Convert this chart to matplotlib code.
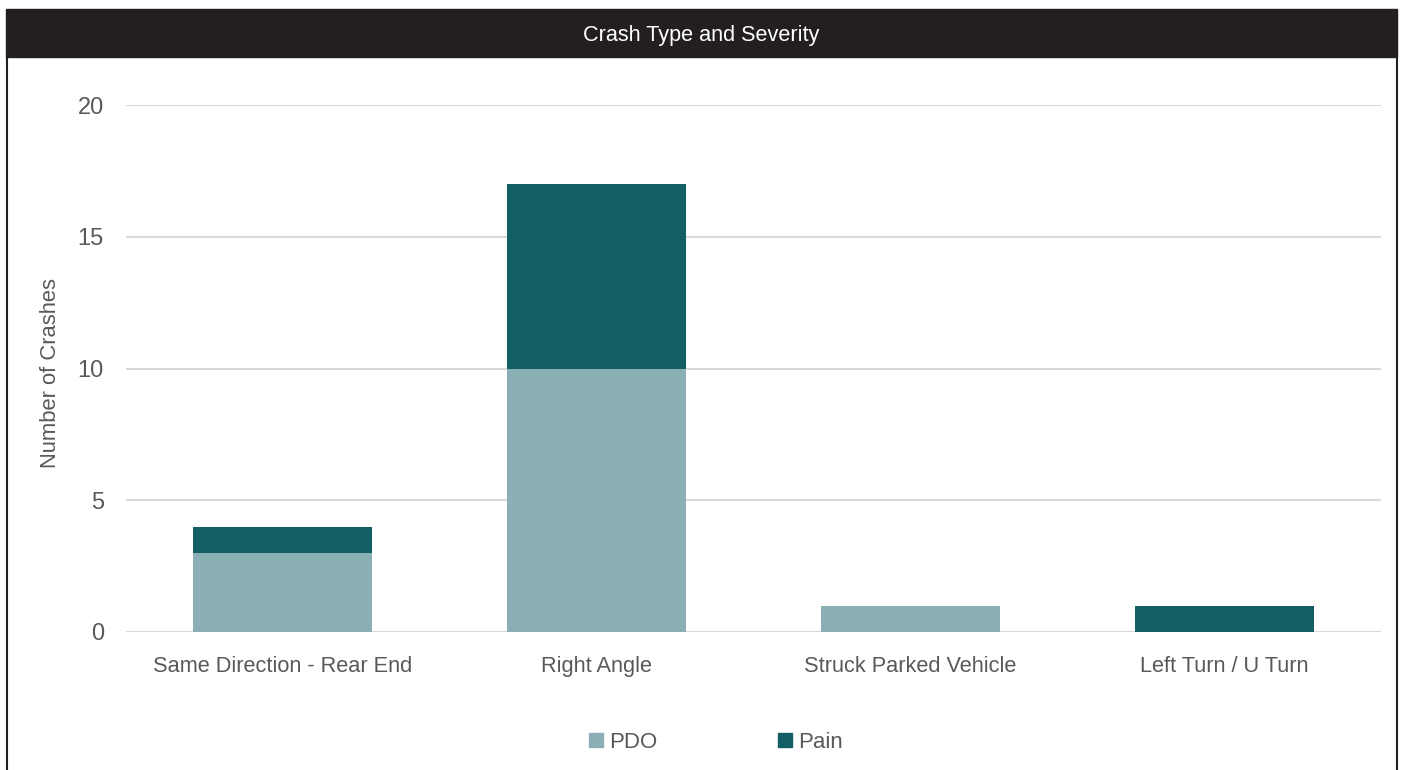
import matplotlib
matplotlib.use("Agg")
import matplotlib.pyplot as plt
from matplotlib.patches import Rectangle
from matplotlib.lines import Line2D
import numpy as np

# Datos
categorias = ["Same Direction - Rear End", "Right Angle", "Struck Parked Vehicle", "Left Turn / U Turn"]
pdo = [3, 10, 1, 0]
pain = [1, 7, 0, 1]
yticks = [0, 5, 10, 15, 20]

color_pdo = "#8aafb4"
color_pain = "#135f66"
color_texto = "#595959"

plt.rcParams["font.family"] = ["Liberation Sans", "DejaVu Sans"]

fig = plt.figure(figsize=(14.01, 7.70), dpi=100)
ax = fig.add_axes([126 / 1401, 138 / 770, 1255 / 1401, 527 / 770])

x = np.arange(len(categorias))
ax.bar(x, pdo, width=0.57, color=color_pdo, zorder=3, label="PDO")
ax.bar(x, pain, width=0.57, bottom=pdo, color=color_pain, zorder=3, label="Pain")

ax.set_xlim(-0.5, len(categorias) - 0.5)
ax.set_ylim(0, 20)
ax.set_yticks(yticks)
ax.set_xticks(x)
ax.set_xticklabels(categorias)
ax.tick_params(length=0, colors=color_texto)
ax.tick_params(axis="x", pad=17, labelsize=15.7)
ax.tick_params(axis="y", pad=16, labelsize=17)
ax.grid(axis="y", color="#d9d9d9", lw=1.5, zorder=0)
for s in ax.spines.values():
    s.set_visible(False)
ax.set_ylabel("Number of Crashes", fontsize=15.8, color=color_texto)
ax.yaxis.set_label_coords(-75 / 1255, 0.491)
ax.yaxis.label.set_va("center")

# Leyenda
handles = [Line2D([], [], marker="s", ls="none", markersize=9.5, color=color_pdo),
           Line2D([], [], marker="s", ls="none", markersize=9.5, color=color_pain)]
fig.legend(handles, ["PDO", "Pain"], loc="center", bbox_to_anchor=(715 / 1401, 1 - 742 / 770),
           ncol=2, frameon=False, fontsize=16, labelcolor=color_texto,
           handletextpad=0.2, columnspacing=5.3, handlelength=0.8)

# Barra de titulo y borde
fig.patches.append(Rectangle((6 / 1401, 1 - 57 / 770), 1391 / 1401, 48 / 770,
                             transform=fig.transFigure, color="#231f20", zorder=0))
fig.add_artist(Line2D([7.5 / 1401, 7.5 / 1401], [0, 1 - 57 / 770], transform=fig.transFigure,
                      color="#231f20", lw=1.5))
fig.add_artist(Line2D([1396.5 / 1401, 1396.5 / 1401], [0, 1 - 57 / 770], transform=fig.transFigure,
                      color="#231f20", lw=1.5))
fig.text(701 / 1401, 1 - 35 / 770, "Crash Type and Severity", ha="center", va="center",
         color="white", fontsize=15.6)

fig.savefig("out.png", dpi=100)
